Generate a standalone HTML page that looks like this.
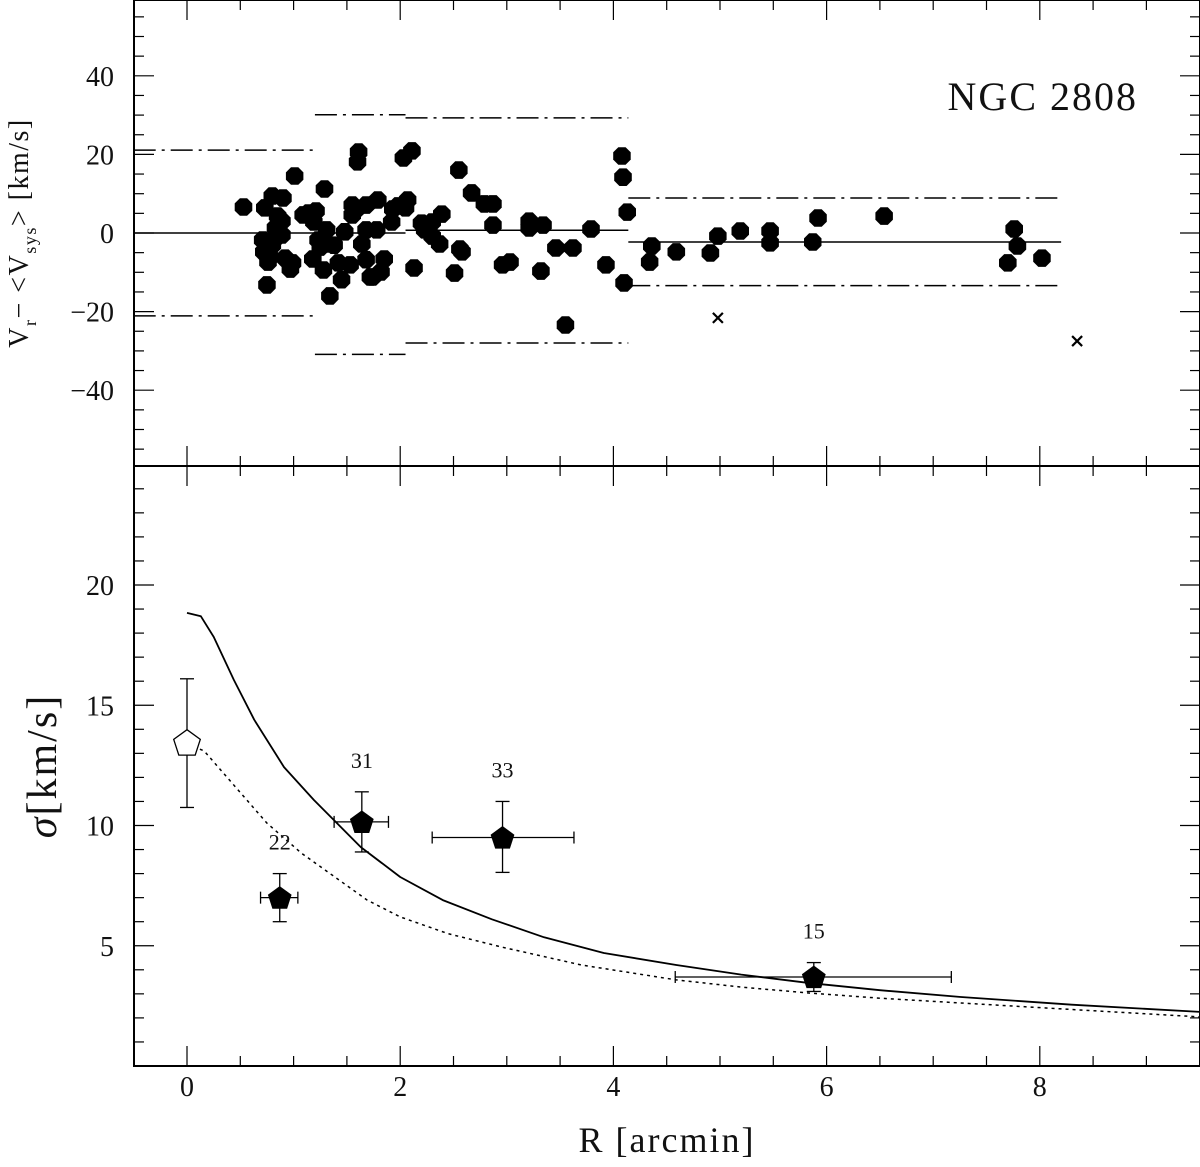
<!DOCTYPE html>
<html><head><meta charset="utf-8"><style>
body{margin:0;background:#fff}
svg text{font-family:"Liberation Serif","DejaVu Serif",serif;fill:#111}
</style></head><body>
<svg id="c" width="1200" height="1162" xmlns="http://www.w3.org/2000/svg"></svg>
<script>
// ---- data ----
const topR=[0.53,0.73,0.71,0.72,0.76,0.75,0.80,0.83,0.80,0.78,0.83,0.85,0.90,0.89,0.89,0.92,0.97,0.99,1.01,1.09,1.14,1.18,1.19,1.21,1.25,1.23,1.28,1.29,1.30,1.31,1.34,1.38,1.42,1.45,1.48,1.53,1.55,1.55,1.59,1.61,1.60,1.64,1.68,1.68,1.68,1.74,1.72,1.78,1.79,1.82,1.85,1.92,1.93,1.98,2.03,2.07,2.11,2.05,2.13,2.20,2.23,2.30,2.37,2.39,2.30,2.55,2.56,2.58,2.51,2.67,2.79,2.87,2.87,2.96,3.03,3.21,3.21,3.32,3.34,3.46,3.55,3.62,3.79,3.93,4.08,4.09,4.13,4.10,4.34,4.36,4.59,4.91,4.98,5.19,5.47,5.47,5.87,5.92,6.54,7.70,7.76,7.79,8.02];
const topV=[6.6,6.4,-1.8,-4.8,-7.4,-13.2,9.4,1.3,-3.1,-6.1,-1.3,4.3,8.9,3.0,-0.5,-6.4,-9.2,-7.6,14.5,4.6,5.1,-6.6,2.8,5.6,-3.6,-1.8,-9.4,11.2,-2.8,0.8,-16.0,-3.1,-7.6,-11.9,0.3,-8.1,7.1,4.6,6.1,20.6,18.1,-2.8,7.1,0.8,-6.8,-11.2,-11.2,0.8,8.4,-9.9,-6.6,2.8,6.1,6.9,19.1,8.4,20.9,6.4,-8.9,2.5,0.8,-0.8,-2.8,4.8,2.8,16.0,-4.1,-4.8,-10.2,10.2,7.4,7.4,2.0,-8.1,-7.4,3.0,1.3,-9.7,2.0,-3.8,-23.4,-3.8,1.0,-8.1,19.6,14.2,5.3,-12.7,-7.4,-3.3,-4.8,-5.1,-0.8,0.5,0.5,-2.5,-2.3,3.8,4.3,-7.6,1.0,-3.3,-6.4];
const crossR=[4.98,8.35];
const crossV=[-21.6,-27.5];
const meanSeg=[[-0.5,1.2,0.0],[1.2,2.05,0.0],[2.05,4.14,0.7],[4.14,8.2,-2.3]];
const bandSeg=[[-0.5,1.2,21.1,-21.1],[1.2,2.05,30.1,-30.9],[2.05,4.14,29.3,-28.0],[4.14,8.2,8.9,-13.4]];
const sigR=[0.87,1.64,2.96,5.88];
const sigV=[7.0,10.15,9.5,3.7];
const sigRlo=[0.69,1.38,2.30,4.58];
const sigRhi=[1.04,1.89,3.63,7.17];
const sigVlo=[6.0,8.9,8.05,3.1];
const sigVhi=[8.0,11.4,11.0,4.3];
const sigN=["22","31","33","15"];
const openR=[0.0], openV=[13.4], openLo=[10.75], openHi=[16.1];
const modelR=[0,0.13,0.25,0.44,0.63,0.91,1.19,1.63,2.0,2.4,2.86,3.35,3.91,4.59,5.2,5.82,6.5,7.26,8.3,9.5];
const modelS=[18.84,18.7,17.84,16.05,14.4,12.43,11.06,9.1,7.86,6.9,6.1,5.35,4.7,4.2,3.8,3.46,3.15,2.87,2.55,2.25];
const dotR=[0,0.16,0.75,1.07,1.69,2.0,2.45,2.95,3.7,4.59,5.2,5.82,6.5,7.26,8.3,9.5];
const dotS=[13.4,13.1,10.1,8.86,6.9,6.2,5.5,4.95,4.2,3.58,3.28,3.04,2.82,2.62,2.35,2.04];
const xTicks=[0,2,4,6,8];
const topTicks=[40,20,0,-20,-40];
const botTicks=[5,10,15,20];
// ---- scales ----
const X=r=>187+r*106.6;
const YT=v=>233-v*3.93;
const YB=s=>1066-s*24.05;
const svg=document.getElementById('c');
const NS='http://www.w3.org/2000/svg';
function mk(t,a,p){const e=document.createElementNS(NS,t);for(const k in a)e.setAttribute(k,a[k]);(p||svg).appendChild(e);return e;}
// frames
let f=mk('rect',{x:134,y:0,width:1066,height:466,fill:'none',stroke:'#000','stroke-width':2});


f=mk('rect',{x:134,y:466,width:1066,height:600,fill:'none',stroke:'#000','stroke-width':2});


// x ticks
for(let r=-0.5;r<=9.5;r+=0.5){const x=X(r);const maj=Math.abs(r/2-Math.round(r/2))<1e-6;const L=maj?20:10;
 mk('line',{x1:x,y1:1066,x2:x,y2:1066-L,stroke:'#000','stroke-width':1.2});
 mk('line',{x1:x,y1:466,x2:x,y2:466+L,stroke:'#000','stroke-width':1.2});
 mk('line',{x1:x,y1:466,x2:x,y2:466-L,stroke:'#000','stroke-width':1.2});
 mk('line',{x1:x,y1:0,x2:x,y2:L,stroke:'#000','stroke-width':1.2});}
xTicks.forEach(r=>{const t=mk('text',{x:X(r),y:1096,'text-anchor':'middle','font-size':28});t.textContent=r;
 
 });
// top y ticks
for(let v=-55;v<=55;v+=5){const y=YT(v);const L=(v%20===0)?20:10;
 mk('line',{x1:134,y1:y,x2:134+L,y2:y,stroke:'#000','stroke-width':1.2});
 mk('line',{x1:1200,y1:y,x2:1200-L,y2:y,stroke:'#000','stroke-width':1.2});}
topTicks.forEach(v=>{const t=mk('text',{x:114,y:YT(v)+10,'text-anchor':'end','font-size':28});t.textContent=(v<0?'\u2212':'')+Math.abs(v);
 
 });
// bottom y ticks
for(let s=1;s<=24;s++){const y=YB(s);const L=(s%5===0)?20:10;
 mk('line',{x1:134,y1:y,x2:134+L,y2:y,stroke:'#000','stroke-width':1.2});
 mk('line',{x1:1200,y1:y,x2:1200-L,y2:y,stroke:'#000','stroke-width':1.2});}
botTicks.forEach(s=>{const t=mk('text',{x:114,y:YB(s)+10,'text-anchor':'end','font-size':28});t.textContent=s;
 
 });
// mean lines & bands
meanSeg.forEach(s=>{const l=mk('line',{x1:X(s[0]),x2:X(s[1]),y1:YT(s[2]),y2:YT(s[2]),stroke:'#000','stroke-width':1.5});
 
 });
bandSeg.forEach(s=>{[s[2],s[3]].forEach(v=>{const l=mk('line',{x1:X(s[0]),x2:X(s[1]),y1:YT(v),y2:YT(v),stroke:'#000','stroke-width':1.5,'stroke-dasharray':'22,6,3,6'});
 
 });});
// scatter points
function octo(cx,cy,r){let p=[];for(let i=0;i<8;i++){const a=Math.PI/8+i*Math.PI/4;p.push((cx+r*Math.cos(a)).toFixed(1)+','+(cy+r*Math.sin(a)).toFixed(1));}return p.join(' ');}
topR.forEach((r,i)=>{const p=mk('polygon',{points:octo(X(r),YT(topV[i]),9.5),fill:'#000'});
 
 });
crossR.forEach((r,i)=>{const x=X(r),y=YT(crossV[i]);const g=mk('g',{stroke:'#000','stroke-width':2.2});
 
 
 mk('line',{x1:x-5,y1:y-5,x2:x+5,y2:y+5},g);mk('line',{x1:x-5,y1:y+5,x2:x+5,y2:y-5},g);});
let t=mk('text',{x:1138,y:110,'text-anchor':'end','font-size':40,'letter-spacing':'2','font-family':'Liberation Sans'});t.textContent='NGC 2808';


// curves
function path(rs,ss){return rs.map((r,i)=>(i?'L':'M')+X(r).toFixed(1)+','+YB(ss[i]).toFixed(1)).join(' ');}
let pc=mk('path',{d:path(modelR,modelS),fill:'none',stroke:'#000','stroke-width':1.8,'stroke-linejoin':'round'});


pc=mk('path',{d:path(dotR,dotS),fill:'none',stroke:'#000','stroke-width':1.5,'stroke-dasharray':'3,4'});


// pentagon
function pent(cx,cy,r){let p=[];for(let i=0;i<5;i++){const a=-Math.PI/2+i*2*Math.PI/5;p.push((cx+r*Math.cos(a)).toFixed(1)+','+(cy+r*Math.sin(a)).toFixed(1));}return p.join(' ');}
function errbar(x1,y1,x2,y2,vert){mk('line',{x1,y1,x2,y2,stroke:'#000','stroke-width':1.3});
 if(vert){mk('line',{x1:x1-7,x2:x1+7,y1:y1,y2:y1,stroke:'#000','stroke-width':1.3});mk('line',{x1:x1-7,x2:x1+7,y1:y2,y2:y2,stroke:'#000','stroke-width':1.3});}
 else{mk('line',{x1:x1,x2:x1,y1:y1-6,y2:y1+6,stroke:'#000','stroke-width':1.3});mk('line',{x1:x2,x2:x2,y1:y2-6,y2:y2+6,stroke:'#000','stroke-width':1.3});}}
openR.forEach((r,i)=>{errbar(X(r),YB(openHi[i]),X(r),YB(openLo[i]),true);
 const p=mk('polygon',{points:pent(X(r),YB(openV[i]),14),fill:'#fff',stroke:'#000','stroke-width':1.3});
 
 });
sigR.forEach((r,i)=>{const x=X(r),y=YB(sigV[i]);
 errbar(x,YB(sigVhi[i]),x,YB(sigVlo[i]),true);
 errbar(X(sigRlo[i]),y,X(sigRhi[i]),y,false);
 const p=mk('polygon',{points:pent(x,y+1,12.5),fill:'#000'});
 
 
 const tx=mk('text',{x:x,y:YB(sigVhi[i])-24,'text-anchor':'middle','font-size':22});tx.textContent=sigN[i];
 
 });
// axis titles
t=mk('text',{x:667,y:1152,'text-anchor':'middle','font-size':36,'letter-spacing':'2'});t.textContent='R [arcmin]';


t=mk('text',{x:0,y:0,'text-anchor':'middle','font-size':42,'letter-spacing':'2',transform:'translate(56,766) rotate(-90)'});
t.innerHTML='<tspan font-style="italic">σ</tspan>[km/s]';


t=mk('text',{x:0,y:0,'text-anchor':'middle','font-size':28,'letter-spacing':'1.5',transform:'translate(28,233) rotate(-90)'});
t.innerHTML='V<tspan font-size="18" dy="8">r</tspan><tspan dy="-8">\u2212 &lt;V</tspan><tspan font-size="18" dy="8">sys</tspan><tspan dy="-8">&gt; [km/s]</tspan>';


</script>
</body></html>
